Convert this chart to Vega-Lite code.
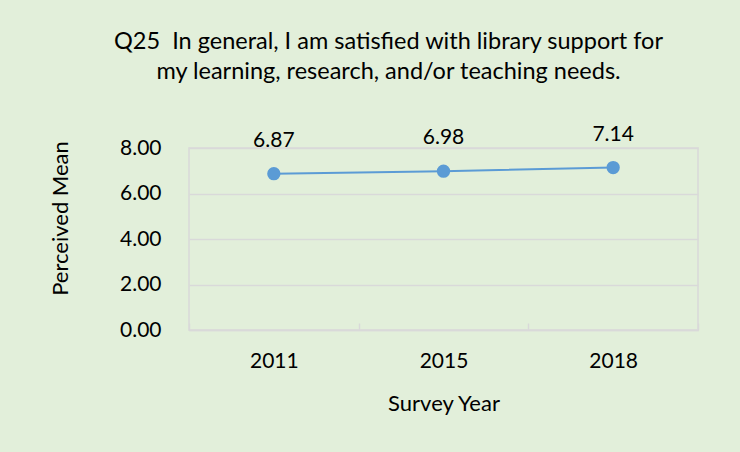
{
  "$schema": "https://vega.github.io/schema/vega-lite/v6.json",
  "width": 509,
  "height": 182,
  "autosize": {"type": "none"},
  "padding": {"left": 189, "top": 148, "right": 42, "bottom": 122},
  "background": "#e2efda",
  "title": {
    "text": ["Q25\u00a0 In general, I am satisfied with library support for", "my learning, research, and/or teaching needs."],
    "font": "Lato",
    "fontSize": 23.5,
    "fontWeight": "normal",
    "color": "#000000",
    "lineHeight": 30,
    "anchor": "middle",
    "dx": -55,
    "offset": 40
  },
  "config": {
    "view": {"stroke": "#d9d9d9", "strokeWidth": 1.5},
    "font": "Lato"
  },
  "data": {
    "values": [
      {"year": "2011", "mean": 6.87},
      {"year": "2015", "mean": 6.98},
      {"year": "2018", "mean": 7.14}
    ]
  },
  "encoding": {
    "x": {
      "field": "year",
      "type": "ordinal",
      "scale": {"type": "band", "paddingInner": 0, "paddingOuter": 0},
      "axis": {
        "title": "Survey Year",
        "titleFont": "Lato",
        "titleFontSize": 22,
        "titleFontWeight": "normal",
        "titleColor": "#000000",
        "titlePadding": 22,
        "labelFont": "Lato",
        "labelFontSize": 21,
        "labelColor": "#000000",
        "labelAngle": 0,
        "labelPadding": 27,
        "tickBand": "extent",
        "ticks": true,
        "tickSize": -7,
        "tickColor": "#d9d9d9",
        "tickWidth": 1.5,
        "domainColor": "#d9d9d9",
        "domainWidth": 1.5,
        "grid": false
      }
    },
    "y": {
      "field": "mean",
      "type": "quantitative",
      "scale": {"domain": [0, 8]},
      "axis": {
        "title": "Perceived Mean",
        "titleFont": "Lato",
        "titleFontSize": 22,
        "titleFontWeight": "normal",
        "titleColor": "#000000",
        "titleX": -129,
        "titleY": 70,
        "titleBaseline": "middle",
        "titleAngle": -90,
        "values": [0, 2, 4, 6, 8],
        "format": ".2f",
        "labelFont": "Lato",
        "labelFontSize": 21,
        "labelColor": "#000000",
        "labelPadding": 28,
        "ticks": false,
        "domain": false,
        "grid": true,
        "gridColor": "#d9d9d9",
        "gridWidth": 1.5
      }
    }
  },
  "layer": [
    {
      "mark": {"type": "line", "color": "#5b9bd5", "strokeWidth": 2}
    },
    {
      "mark": {"type": "point", "filled": true, "shape": "circle", "size": 177, "color": "#5b9bd5", "opacity": 1}
    },
    {
      "mark": {"type": "text", "font": "Lato", "fontSize": 21, "color": "#000000", "dy": -33, "baseline": "middle"},
      "encoding": {"text": {"field": "mean", "type": "quantitative", "format": ".2f"}}
    }
  ]
}
